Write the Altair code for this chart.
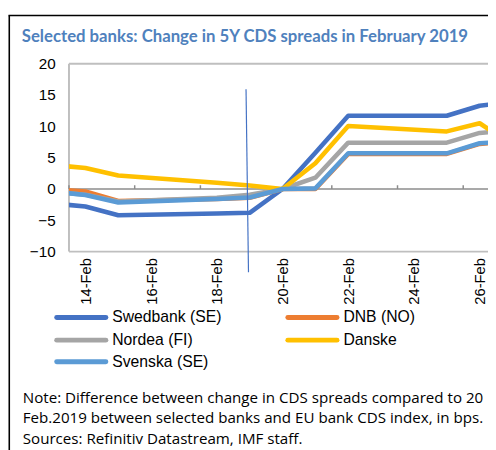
import altair as alt
import pandas as pd

# ---- data ----
days = [13, 14, 15, 18, 19, 20, 21, 22, 25, 26, 27]
banks = ["Swedbank (SE)", "DNB (NO)", "Nordea (FI)", "Danske", "Svenska (SE)"]
swedbank = [-2.3, -2.8, -4.2, -3.9, -3.8, 0.0, 5.8, 11.7, 11.7, 13.3, 13.9]
dnb = [0.0, -0.4, -1.9, -1.6, -1.4, 0.0, 0.0, 5.6, 5.6, 7.2, 7.6]
nordea = [-0.5, -0.9, -2.0, -1.4, -0.9, 0.0, 1.8, 7.4, 7.4, 8.95, 9.4]
danske = [3.85, 3.35, 2.15, 1.0, 0.55, 0.0, 4.1, 10.05, 9.2, 10.5, 7.0]
svenska = [-0.4, -0.95, -2.15, -1.6, -1.35, 0.0, 0.1, 5.7, 5.7, 7.3, 7.7]
series = [swedbank, dnb, nordea, danske, svenska]
colors = ["#4472C4", "#ED7D31", "#A5A5A5", "#FFC000", "#5B9BD5"]
label_days = [14, 16, 18, 20, 22, 24, 26]
y_ticks = [-10, -5, 0, 5, 10, 15, 20]

title_text = "Selected banks: Change in 5Y CDS spreads in February 2019"
notes = [
    "Note: Difference between change in CDS spreads compared to 20",
    "Feb.2019 between selected banks and EU bank CDS index, in bps.",
    "Sources: Refinitiv Datastream, IMF staff.",
]

# ---- layout ----
W, H = 426, 191
PX_PER_DAY = 33.4
x_dom = [13.5, 13.5 + W / PX_PER_DAY]
xs = alt.Scale(domain=x_dom, nice=False, zero=False)
ys = alt.Scale(domain=[-10, 20], nice=False, zero=False)

xaxis = alt.Axis(
    values=label_days, labelExpr="datum.value + '-Feb'", labelAngle=270,
    labelFont="Liberation Sans", labelFontSize=15, labelColor="#000000",
    labelPadding=6, domain=False, ticks=False, grid=False, title=None,
    labelOverlap=False, labelFlush=False)
yaxis = alt.Axis(
    values=y_ticks, labelFont="Liberation Sans", labelFontSize=15.5, labelColor="#000000",
    labelPadding=14, domain=False, ticks=False, grid=False, title=None,
    labelFlush=False, labelOverlap=False)

df = pd.DataFrame(
    [{"day": d, "value": v, "bank": b} for b, vals in zip(banks, series) for d, v in zip(days, vals)]
)
one = pd.DataFrame({"k": [0]})
boundaries = pd.DataFrame({"day": [d - 0.5 for d in label_days], "value": 0.0, "v1": 0.6})

layers = []

# outer black frame (left + top)
layers.append(alt.Chart(one).mark_rule(color="#000000", strokeWidth=1.6).encode(
    x=alt.value(-60.7), y=alt.value(-49), y2=alt.value(400)))
layers.append(alt.Chart(one).mark_rule(color="#000000", strokeWidth=1.6).encode(
    x=alt.value(-61.5), x2=alt.value(W + 10), y=alt.value(-49)))

# plot frame (light gray), right side is cut off
frame = dict(color="#BFBFBF", strokeWidth=2)
layers.append(alt.Chart(one).mark_rule(**frame).encode(x=alt.value(0), y=alt.value(0), y2=alt.value(H)))
layers.append(alt.Chart(one).mark_rule(**frame).encode(x=alt.value(0), x2=alt.value(W + 5), y=alt.value(0)))
layers.append(alt.Chart(one).mark_rule(**frame).encode(x=alt.value(0), x2=alt.value(W + 5), y=alt.value(H)))

# tick marks on the zero line + zero line
layers.append(alt.Chart(boundaries).mark_rule(color="#8C8C8C", strokeWidth=1.5).encode(
    x=alt.X("day:Q", scale=xs, axis=xaxis), y=alt.Y("value:Q", scale=ys, axis=yaxis), y2="v1:Q"))
layers.append(alt.Chart(boundaries).mark_rule(color="#8C8C8C", strokeWidth=1.5).encode(
    x=alt.value(0), x2=alt.value(W + 5), y=alt.Y("mean(value):Q", scale=ys, axis=yaxis)))

# data lines, in Excel series order (later on top)
for b, c in zip(banks, colors):
    layers.append(
        alt.Chart(df).transform_filter(alt.datum.bank == b)
        .mark_line(color=c, strokeWidth=4.6, strokeJoin="round", clip=True)
        .encode(x=alt.X("day:Q", scale=xs, axis=xaxis), y=alt.Y("value:Q", scale=ys, axis=yaxis))
    )

# annotation line (thin blue)
layers.append(alt.Chart(one).mark_rule(color="#4472C4", strokeWidth=1.2).encode(
    x=alt.value(180), x2=alt.value(182.5), y=alt.value(26), y2=alt.value(212)))

# legend (manual, two columns)
leg_pos = [(-12.5, 258), (222.5, 258), (-12.5, 281), (222.5, 281), (-12.5, 303)]
for (b, c), (lx, ly) in zip(zip(banks, colors), leg_pos):
    layers.append(alt.Chart(one).mark_rule(color=c, strokeWidth=5, strokeCap="round").encode(
        x=alt.value(lx), x2=alt.value(lx + 50), y=alt.value(ly)))
    layers.append(alt.Chart(one).mark_text(
        text=b, align="left", baseline="middle", font="Liberation Sans", fontSize=16, color="#000000"
    ).encode(x=alt.value(lx + 56.5), y=alt.value(ly)))

# title
layers.append(alt.Chart(one).mark_text(
    text=title_text, align="left", baseline="alphabetic", font="Lato", fontWeight="bold",
    fontSize=17, color="#4F81BD").encode(x=alt.value(-48), y=alt.value(-22)))

# notes
for t, yy in zip(notes, [344.5, 365.5, 386.5]):
    layers.append(alt.Chart(one).mark_text(
        text=t, align="left", baseline="alphabetic", font="Open Sans", fontSize=15.4,
        color="#000000").encode(x=alt.value(-47), y=alt.value(yy)))

chart = alt.layer(*layers).properties(
    width=W, height=H,
    autosize=alt.AutoSizeParams(type="none"),
    padding={"left": 62, "top": 53, "right": 0, "bottom": 198},
).configure_view(stroke=None)

chart.save("out.html", embed_options={"renderer": "svg", "actions": False})
